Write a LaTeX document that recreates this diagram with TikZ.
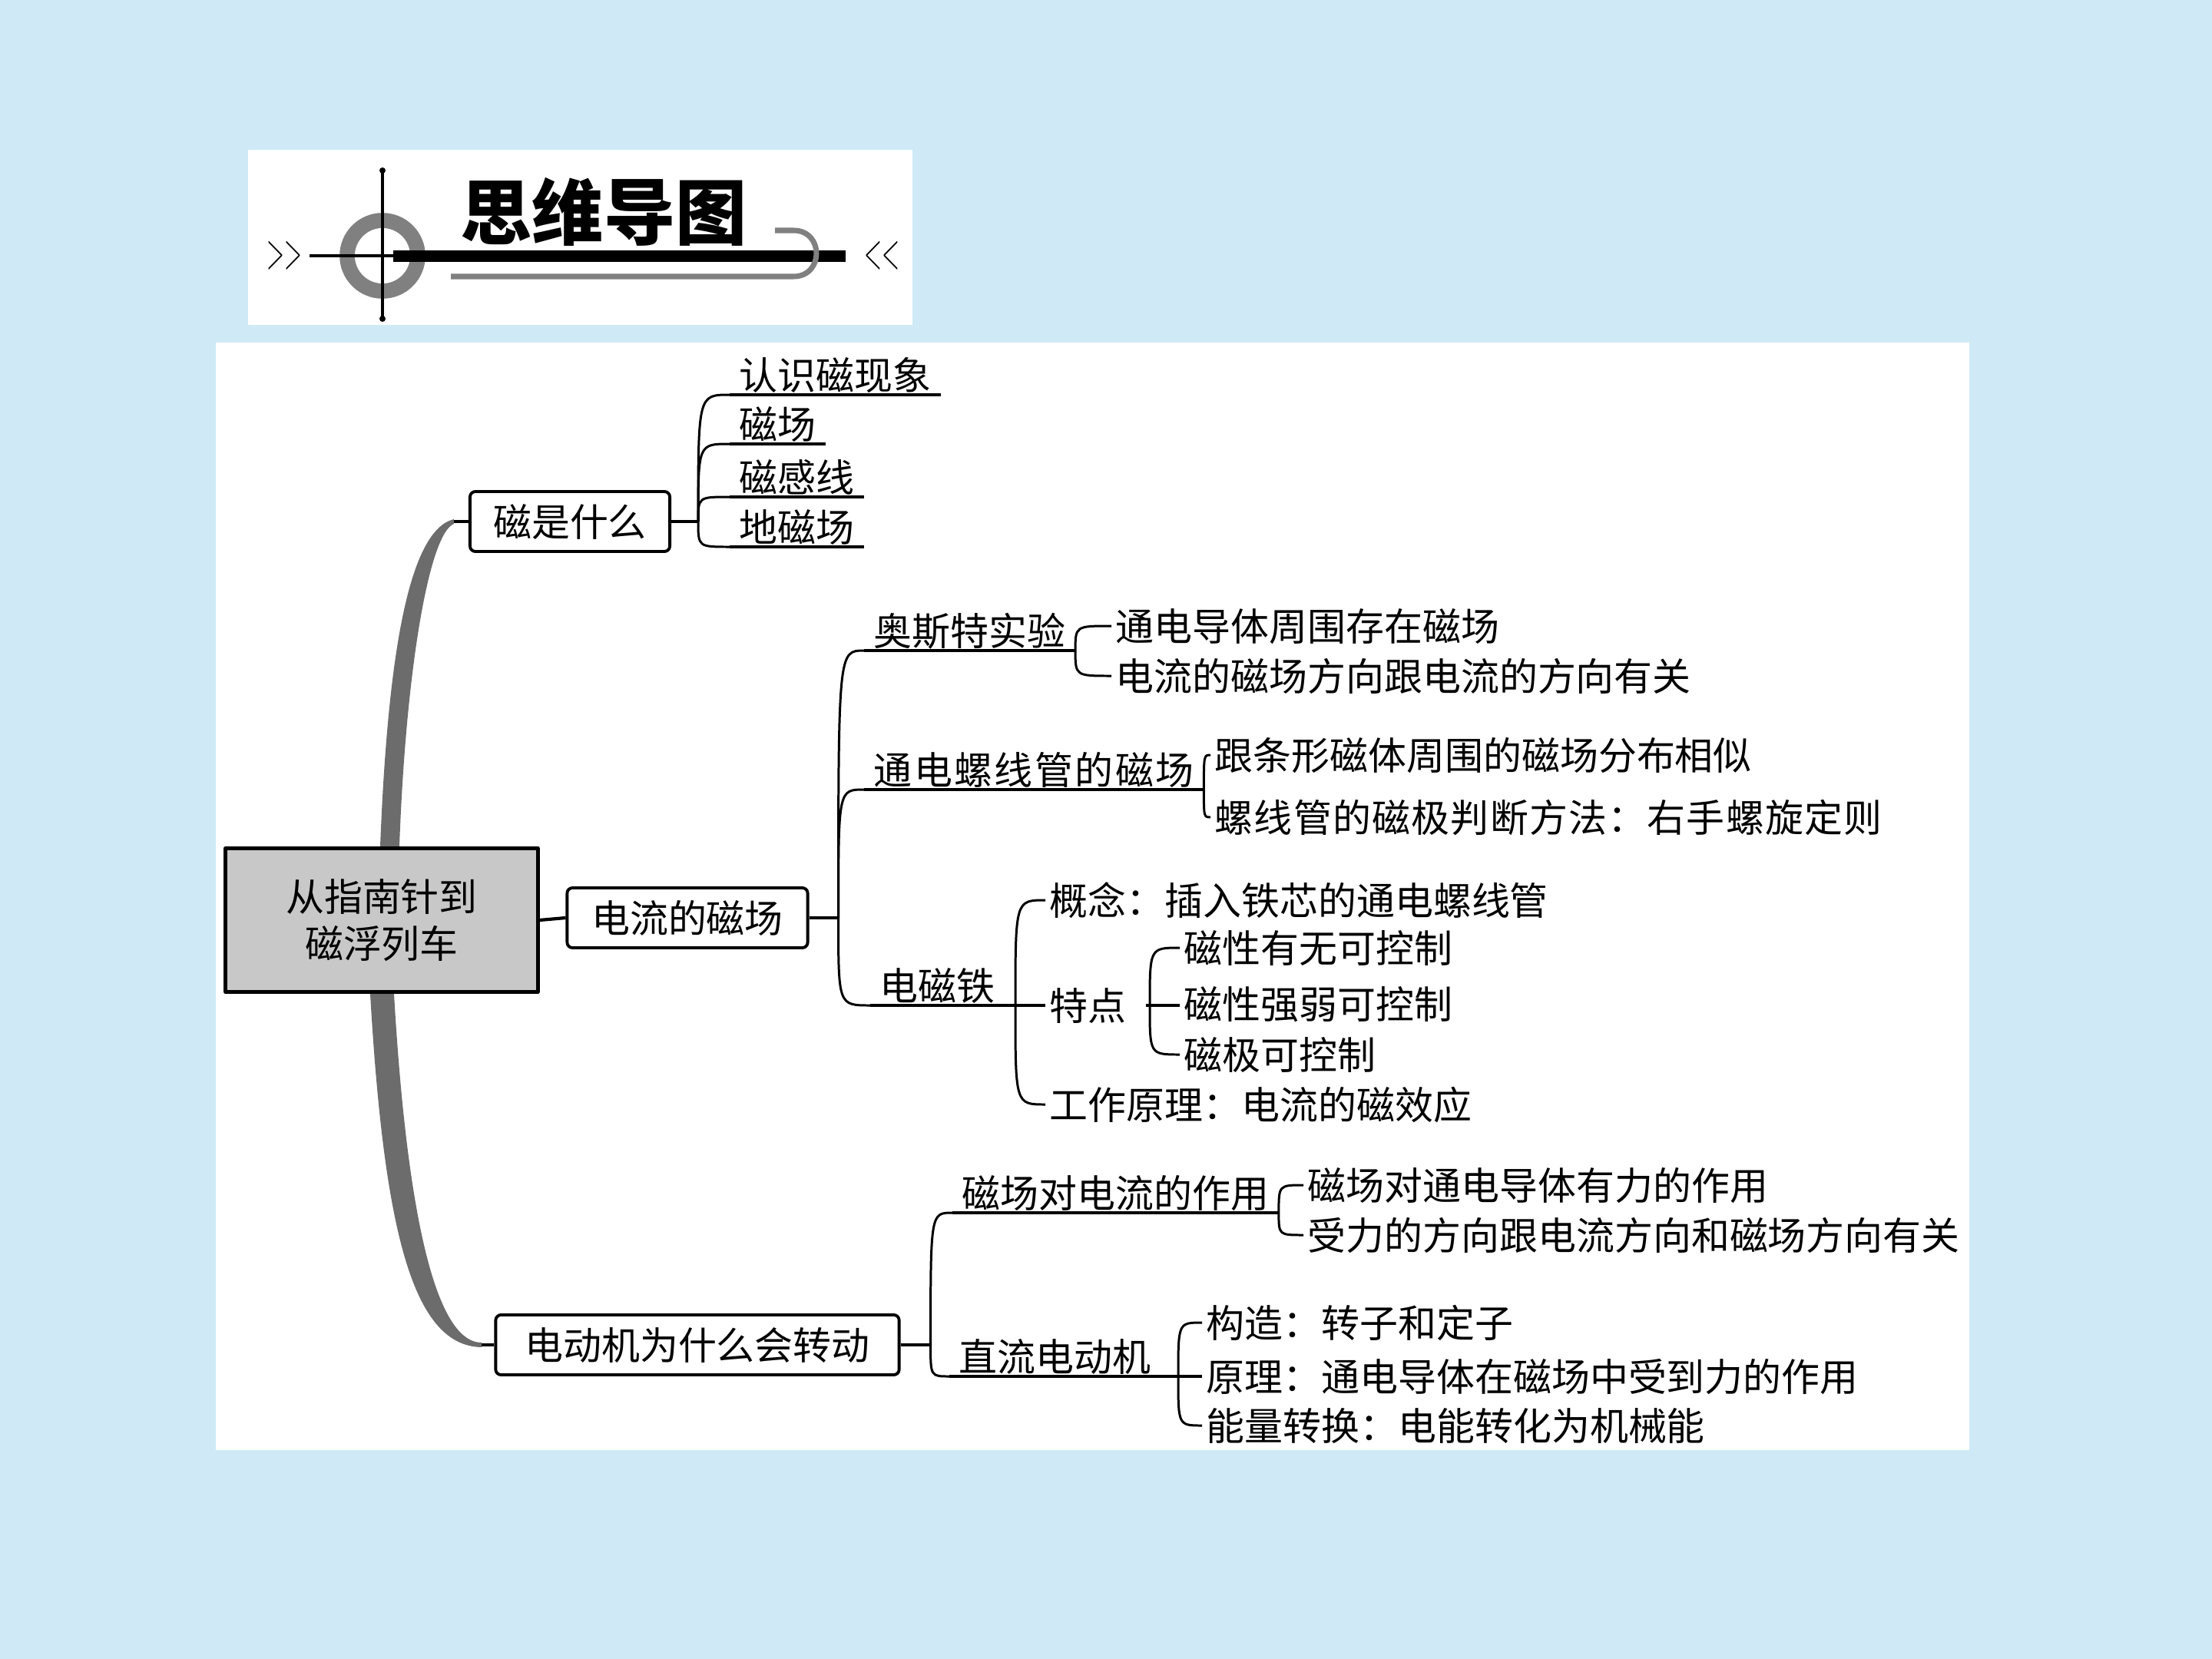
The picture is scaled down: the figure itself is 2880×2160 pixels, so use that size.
\documentclass[tikz,border=0pt]{standalone}
\usepackage{fontspec}
\newfontfamily\cjk{Noto Sans CJK SC}
\usetikzlibrary{calc,positioning}
\definecolor{bgblue}{RGB}{207,234,246}
\definecolor{trunkgray}{RGB}{108,108,108}
\definecolor{rootgray}{RGB}{200,200,200}
\definecolor{ringgray}{RGB}{128,128,128}
\tikzset{topic/.style={draw,line width=1.1pt,rounded corners=0.07cm,fill=white,minimum height=0.78cm,inner sep=0pt,text height=0.44cm,text depth=0.06cm},
  sub/.style={inner xsep=0.12cm,inner ysep=0pt,text height=0.44cm,text depth=0.06cm},
  leaf/.style={inner xsep=0.05cm,inner ysep=0pt,text height=0.44cm,text depth=0.06cm},
  chev/.style={font=\fontsize{19}{19}\selectfont,xscale=0.45,transform shape},
  conn/.style={line width=0.85pt},
  uline/.style={line width=1.2pt},
  trunk/.style={fill=trunkgray}}

\begin{document}
\begin{tikzpicture}[x=0.01cm,y=-0.01cm,line join=round,font=\cjk\fontsize{14.2}{17.4}\selectfont]
% --- page, heading plate and white panel
\fill[bgblue] (0,0) rectangle (2880,2160);
\useasboundingbox (0,0) rectangle (2880,2160);
\fill[white] (323,195) rectangle (1188,423);
\fill[white] (281,446) rectangle (2564,1888);

% --- heading
\draw[ringgray,line width=5.6pt] (498,333) circle (46);
\draw[line width=1.1pt] (403,333) -- (512,333);
\draw[line width=0.9pt] (498,222) -- (498,415);
\fill (498,222) circle (4); \fill (498,415) circle (4);
\fill (512,326) rectangle (1101,341);
\draw[ringgray,line width=2pt] (587,360) -- (1033,360) .. controls (1073,360) and (1073,300) .. (1033,300) -- (1009,300);
\node[font=\cjk\bfseries\fontsize{26.5}{26.5}\selectfont] (head) at (786,276) {思维导图};
\node[chev] (chevl) at (370,333) {>{}>};
\node[chev] (chevr) at (1148,333) {<{}<};

% --- root and the three topics
\node[draw,line width=1.4pt,fill=rootgray,minimum width=4.06cm,minimum height=1.87cm,align=center,inner sep=0pt] (root) at (497,1198) {从指南针到\\磁浮列车};
\node[topic,minimum width=2.6cm] (q1) at (742,679) {磁是什么};
\node[topic,minimum width=3.13cm] (q2) at (895,1195) {电流的磁场};
\node[topic,minimum width=5.25cm] (q3) at (908,1751) {电动机为什么会转动};

% --- tapered trunk
\coordinate (t1) at ($(q1.west)+(-19,0)$);
\coordinate (t3) at ($(q3.west)+(-16,0)$);
\fill[trunk] ($(root.north)+(-2,0)$) .. controls +(10,-254) and +(-58,14) .. ($(t1)+(0,-3)$) -- ($(t1)+(0,3)$) .. controls +(-33,13) and +(8,-224) .. ($(root.north)+(23,0)$) -- cycle;
\fill[trunk] ($(root.south)+(-15,0)$) .. controls +(18,309) and +(-90,-1) .. ($(t3)+(0,3)$) -- ($(t3)+(0,-3)$) .. controls +(-65,1) and +(15,259) .. ($(root.south)+(16,0)$) -- cycle;
\draw[uline] (t1) -- (q1.west);
\draw[uline] (t3) -- (q3.west);
\draw[uline] (root.east) -- (q2.west);

% --- 磁是什么
\coordinate (f1) at ($(q1.east)+(35,0)$);
\draw[uline] (q1.east) -- (f1);
\node[sub,anchor=south west] (a1) at (950,514) {认识磁现象};
\node[sub,anchor=south west] (a2) at (950,578) {磁场};
\node[sub,anchor=south west] (a3) at (950,647) {磁感线};
\node[sub,anchor=south west] (a4) at (950,712) {地磁场};
\foreach \n in {a1,a2,a3,a4} {
  \draw[conn] (f1) .. controls (f1 |- \n.south west) .. (\n.south west);
  \draw[uline] (\n.south west) -- (\n.south east);
}

% --- 电流的磁场
\coordinate (f2) at ($(q2.east)+(38,0)$);
\draw[uline] (q2.east) -- (f2);
\node[sub,anchor=south west] (b1) at (1125,847) {奥斯特实验};
\node[sub,anchor=south west] (b2) at (1125,1028) {\addfontfeature{LetterSpace=5}通电螺线管的磁场};
\node[sub,anchor=south west] (b3) at (1133,1309) {电磁铁};
\foreach \n in {b1,b2,b3}
  \draw[conn] (f2) .. controls (f2 |- \n.south west) .. (\n.south west);
\draw[uline] (b1.south west) -- (b1.south east);
\draw[uline] (b2.south west) -- (b2.south east);

\node[leaf,anchor=west] (c11) at (1447,815) {通电导体周围存在磁场};
\node[leaf,anchor=west] (c12) at (1447,880) {电流的磁场方向跟电流的方向有关};
\draw[conn] (c11.west) .. controls (b1.south east |- c11.west) .. (b1.south east) .. controls (b1.south east |- c12.west) .. (c12.west);
\node[leaf,anchor=west] (c21) at (1576,983) {跟条形磁体周围的磁场分布相似};
\node[leaf,anchor=west] (c22) at (1576,1064) {\addfontfeature{LetterSpace=2.5}螺线管的磁极判断方法：右手螺旋定则};
\draw[conn] (c21.west) .. controls (b2.south east |- c21.west) .. (b2.south east) .. controls (b2.south east |- c22.west) .. (c22.west);

\node[leaf,anchor=west] (d1) at (1361,1172) {概念：插入铁芯的通电螺线管};
\node[leaf,anchor=west] (d2) at (1361,1309) {特点};
\node[leaf,anchor=west] (d3) at (1361,1438) {工作原理：电流的磁效应};
\coordinate (k3) at (1322,1309);
\draw[uline] (b3.south west) -- (d2.west);
\draw[conn] (d1.west) .. controls (k3 |- d1.west) .. (k3) .. controls (k3 |- d3.west) .. (d3.west);

\node[leaf,anchor=west] (e1) at (1536,1234) {磁性有无可控制};
\node[leaf,anchor=west] (e2) at (1536,1307) {磁性强弱可控制};
\node[leaf,anchor=west] (e3) at (1536,1373) {磁极可控制};
\coordinate (k4) at (1497,1309);
\draw[uline] ([xshift=0.2cm]d2.east) -- (e2.west |- d2.east);
\draw[conn] (e1.west) .. controls (k4 |- e1.west) .. (k4) .. controls (k4 |- e3.west) .. (e3.west);

% --- 电动机为什么会转动
\coordinate (f3) at ($(q3.east)+(39,0)$);
\draw[uline] (q3.east) -- (f3);
\node[sub,anchor=south west] (g1) at (1240,1579) {磁场对电流的作用};
\node[sub,anchor=south west] (g2) at (1236,1792) {直流电动机};
\foreach \n in {g1,g2}
  \draw[conn] (f3) .. controls (f3 |- \n.south west) .. (\n.south west);
\draw[uline] (g1.south west) -- (g1.south east);

\node[leaf,anchor=west] (h11) at (1697,1543) {磁场对通电导体有力的作用};
\node[leaf,anchor=west] (h12) at (1697,1608) {受力的方向跟电流方向和磁场方向有关};
\draw[conn] (h11.west) .. controls (g1.south east |- h11.west) .. (g1.south east) .. controls (g1.south east |- h12.west) .. (h12.west);

\node[leaf,anchor=west] (i1) at (1565,1722) {构造：转子和定子};
\node[leaf,anchor=west] (i2) at (1565,1792) {原理：通电导体在磁场中受到力的作用};
\node[leaf,anchor=west] (i3) at (1565,1856) {能量转换：电能转化为机械能};
\coordinate (k6) at (1534,1792);
\draw[uline] (g2.south west) -- (i2.west);
\draw[conn] (i1.west) .. controls (k6 |- i1.west) .. (k6) .. controls (k6 |- i3.west) .. (i3.west);
\end{tikzpicture}
\end{document}
